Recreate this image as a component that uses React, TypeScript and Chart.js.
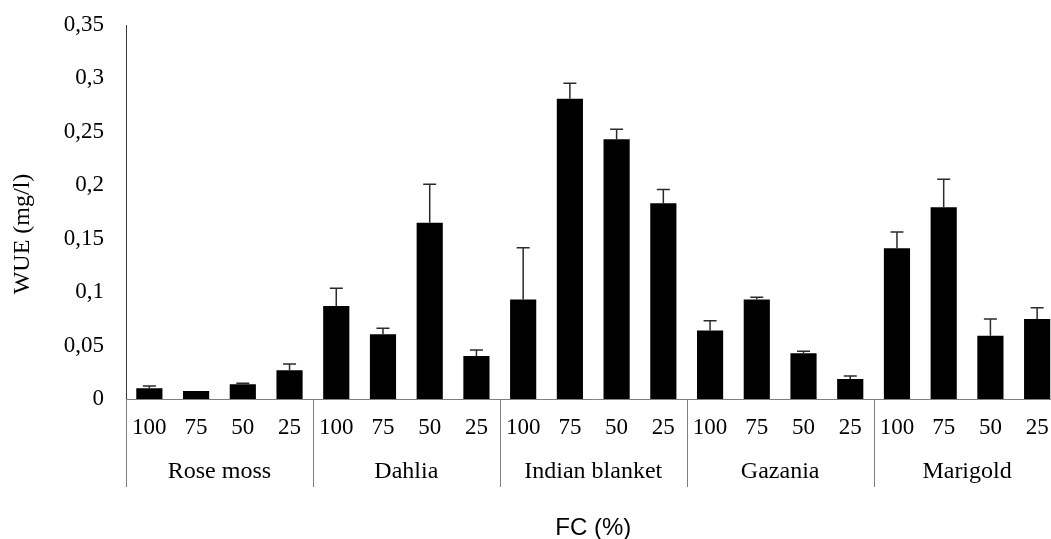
import React, { useEffect, useRef } from 'react';
import { Chart, registerables } from 'chart.js';

Chart.register(...registerables);

const groups = ['Rose moss', 'Dahlia', 'Indian blanket', 'Gazania', 'Marigold'];
const fcLevels = ['100', '75', '50', '25'];
const categories = groups.flatMap(() => fcLevels);

const wueMeans = [
  0.010, 0.0075, 0.0138, 0.027,
  0.087, 0.0605, 0.165, 0.0402,
  0.093, 0.281, 0.243, 0.1831,
  0.064, 0.093, 0.0428, 0.0187,
  0.141, 0.1794, 0.0593, 0.0749,
];
const wueErrors = [
  0.0022, 0, 0.0009, 0.0058,
  0.0166, 0.0057, 0.036, 0.0057,
  0.0486, 0.0145, 0.0094, 0.0129,
  0.0093, 0.0022, 0.0018, 0.0028,
  0.0153, 0.0263, 0.0156, 0.0106,
];
const yMin = 0;
const yMax = 0.35;
const yStep = 0.05;

const yTitle = 'WUE (mg/l)';
const xTitle = 'FC (%)';

const SERIF = "'Liberation Serif', 'Times New Roman', serif";
const SANS = "'Liberation Sans', Arial, sans-serif";

const errorBarPlugin = {
  id: 'errorBars',
  afterDatasetsDraw(chart: any) {
    const meta = chart.getDatasetMeta(0);
    const ys = chart.scales.y;
    const ctx = chart.ctx;
    ctx.save();
    ctx.strokeStyle = '#2b2b2b';
    ctx.lineWidth = 1.5;
    meta.data.forEach((bar: any, i: number) => {
      const err = wueErrors[i];
      if (!err) return;
      const x = bar.x;
      const y0 = ys.getPixelForValue(wueMeans[i]);
      const y1 = ys.getPixelForValue(wueMeans[i] + err);
      ctx.beginPath();
      ctx.moveTo(x, y0);
      ctx.lineTo(x, y1);
      ctx.moveTo(x - 6.5, y1);
      ctx.lineTo(x + 6.5, y1);
      ctx.stroke();
    });
    ctx.restore();
  },
};

const decorPlugin = {
  id: 'decor',
  afterDraw(chart: any) {
    const ctx = chart.ctx;
    const xs = chart.scales.x;
    const x2 = chart.scales.x2;
    const catW = (xs.right - xs.left) / categories.length;
    ctx.save();
    ctx.strokeStyle = '#7f7f7f';
    ctx.lineWidth = 1;
    for (let g = 0; g <= groups.length; g++) {
      const bx = Math.round(xs.left + g * fcLevels.length * catW) + 0.5;
      ctx.beginPath();
      ctx.moveTo(bx, xs.top);
      ctx.lineTo(bx, x2.top + 46);
      ctx.stroke();
    }
    // y axis title
    const ys = chart.scales.y;
    ctx.fillStyle = '#000';
    ctx.font = `24px ${SERIF}`;
    ctx.textAlign = 'center';
    ctx.textBaseline = 'middle';
    ctx.translate(ys.left + 23, (ys.top + ys.bottom) / 2 + 22);
    ctx.rotate(-Math.PI / 2);
    ctx.fillText(yTitle, 0, 0);
    ctx.restore();
  },
};

export default function App() {
  const ref = useRef<HTMLCanvasElement | null>(null);

  useEffect(() => {
    if (!ref.current) return;
    const chart = new Chart(ref.current, {
      type: 'bar',
      data: {
        labels: categories,
        datasets: [
          {
            data: wueMeans,
            backgroundColor: '#000000',
            borderWidth: 0,
            barPercentage: 0.56,
            categoryPercentage: 1,
          },
        ],
      },
      plugins: [errorBarPlugin, decorPlugin],
      options: {
        responsive: false,
        animation: false,
        events: [],
        layout: { padding: { top: 25, right: 19.5, left: 0, bottom: 0 } },
        plugins: {
          legend: { display: false },
          tooltip: { enabled: false },
          title: { display: false },
        },
        scales: {
          y: {
            min: yMin,
            max: yMax,
            grid: { display: false, drawTicks: false },
            border: { display: true, color: '#3a3a3a', width: 1 },
            ticks: {
              stepSize: yStep,
              padding: 22,
              color: '#000',
              font: { family: SERIF, size: 23 },
              callback: (v: any) => String(Number(Number(v).toFixed(2))).replace('.', ','),
            },
            afterFit: (s: any) => {
              s.width = 126;
              s.paddingTop = 0;
              s.paddingBottom = 0;
            },
          },
          x: {
            type: 'category',
            weight: 0,
            offset: true,
            grid: { display: false, drawTicks: false },
            border: { display: true, color: '#7f7f7f', width: 1 },
            ticks: {
              padding: 14.9,
              color: '#000',
              autoSkip: false,
              maxRotation: 0,
              font: { family: SERIF, size: 23 },
            },
            afterFit: (s: any) => {
              s.height = 42;
            },
          },
          x2: {
            type: 'category',
            position: 'bottom',
            labels: groups,
            weight: 1,
            offset: true,
            grid: { display: false, drawTicks: false },
            border: { display: false },
            ticks: {
              padding: 16.3,
              color: '#000',
              autoSkip: false,
              maxRotation: 0,
              font: { family: SERIF, size: 24 },
            },
            title: {
              display: true,
              text: xTitle,
              color: '#000',
              font: { family: SANS, size: 24 },
              padding: { top: 0, bottom: -4 },
            },
            afterFit: (s: any) => {
              s.height = 98;
            },
          },
        },
      },
    });
    return () => chart.destroy();
  }, []);

  return (
    <div
      style={{
        position: 'fixed',
        left: 0,
        top: 0,
        width: 1051,
        height: 539,
        overflow: 'hidden',
        background: '#fff',
      }}
    >
      <canvas ref={ref} width={1080} height={539} />
    </div>
  );
}
